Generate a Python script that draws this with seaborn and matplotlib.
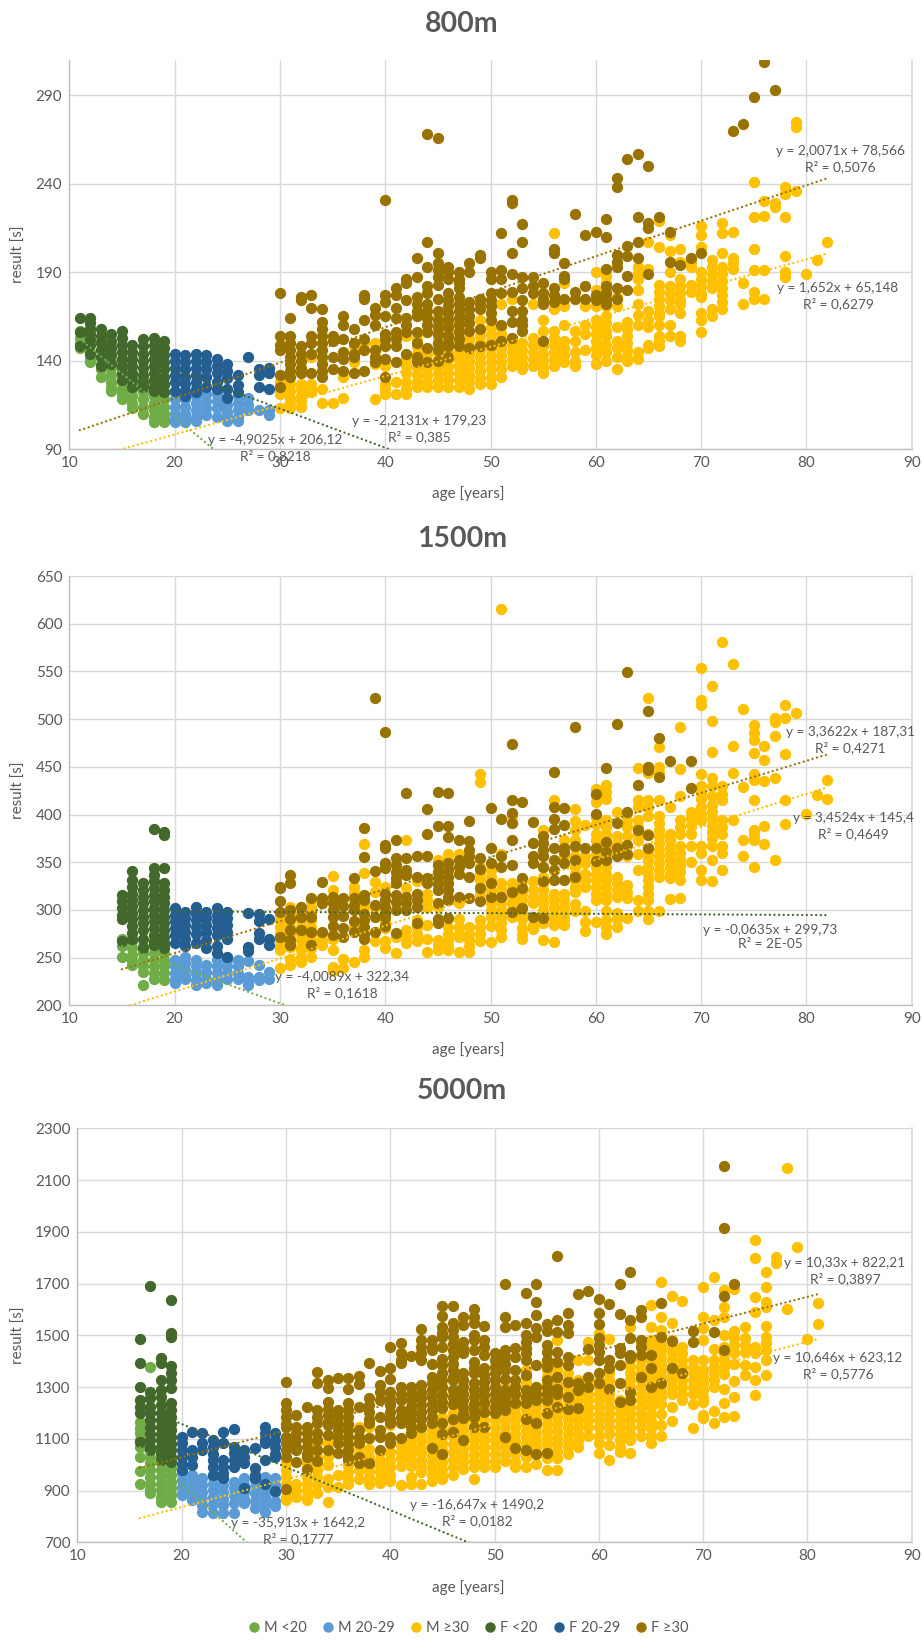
import matplotlib
matplotlib.use('Agg')
import matplotlib.pyplot as plt
from matplotlib.lines import Line2D
import pandas as pd
import seaborn as sns

# age -> results
M800_U20 = {11:[157,153,150,147], 12:[158,150,145,141,139], 13:[146,142,138,135,131],
    14:[148,144,140,136,132,128,125,123], 15:[140,136,132,128,124,121,118],
    16:[132,128,124,120,116,113], 17:[130,126,122,118,114,110],
    18:[128,124,120,116,112,108,105], 19:[126,122,118,114,110,107,105]}
M800_20 = {20:[122,118,114,110,107,105], 21:[122,118,114,110,107,105], 22:[120,116,112,108,106],
    23:[121,117,113,109], 24:[121,117,113,108], 25:[119,115,111,108,106], 26:[120,116,112,108,106],
    27:[119,115,112], 28:[112], 29:[112,109]}
M800_30 = {30:[128,124,121,113], 31:[127,123,119,116,113], 32:[127,124,120,117,114], 33:[142,127,124,122],
    34:[124,116], 35:[116], 36:[131,119], 37:[148,144,139], 38:[150], 39:[150,146,142,138,118],
    40:[137,127,124,121], 41:[155,151,128,121], 42:[154,141,137,133,128,124,121],
    43:[152,148,144,140,136,132,128,125], 44:[156,144,140,136,132,128,125],
    45:[165,161,157,153,149,145,141,137,133,129,125], 46:[165,161,157,153,149,145,141,137,133,129,125],
    47:[161,157,153,149,145,141,137,133,129,125], 48:[152,148,144,140,136,132,128,124],
    49:[163,158,154,150,146,142,138,134,130,127], 50:[159,155,151,147,143,139,135,131,127],
    51:[172,159,155,151,147,143,139,135,131], 52:[175,153,149,145,141,137],
    53:[150,146,142,138,135], 54:[172,153,149,145,141,137], 55:[163,157,148,144,140,136,133],
    56:[212,169,157,153,149,145,141,137], 57:[184,171,160,151,147,143,139], 58:[157,151,145,140,137],
    59:[171,160,155,146], 60:[190,180,176,171,163,159,155,151,147,143,138],
    61:[188,184,180,176,171,165,161,157,154,149,145,140], 62:[176,171,159,151,147,142,135],
    63:[162,158,154,150,146,142,140], 64:[193,189,186,180,172,166,160,145,141],
    65:[207,192,168,163,159,149,147], 66:[219,204,183,179,175,171,167,165,160,154,151,148],
    67:[211,202,190,182,178,174,169,160,154], 68:[203,196,186,182,178,174,172,167,154,151],
    69:[196,193,183,179], 70:[216,211,204,190,186,182,178,176,167,163,156],
    71:[197,193,189,185,181,169,165], 72:[218,212,201,193,189,185,181,177,173,169],
    73:[213,198,195,192], 74:[184,172], 75:[241,221,203,191,179,175], 76:[230,222,191,175],
    77:[229,227], 78:[238,234,221,199,190,187], 79:[275,272,236], 80:[189], 81:[197], 82:[207]}
F800_U20 = {11:[164,156,148], 12:[164,161,158,155,152,149,144], 13:[158,154,150,146,142,137],
    14:[155,151,147,143,138], 15:[157,153,149,145,141,137,133,129], 16:[149,145,141,137,133,129,125],
    17:[152,148,144,140,136,132,128,125], 18:[153,149,145,141,137,133,129,125,123],
    19:[151,147,143,139,135,131,127,122]}
F800_20 = {20:[144,140,136,132,128,123], 21:[143,139,135,131,127,123,120], 22:[144,140,136,132,128,124,122],
    23:[143,139,135,131,125], 24:[141,137,133,128,124], 25:[138,134,130,124,119], 26:[132,126,122],
    27:[142], 28:[135,132,125], 29:[136,133,124]}
F800_30 = {30:[178,154,149,146,132,125], 31:[164,154,150,146,142,138,134,131], 32:[176,174,148,144,140,136,133],
    33:[177,170,154,150,144,133], 34:[169,162,158,154,150,146,142,138,134,131], 35:[154,151,142,135],
    36:[165,160,152,145,141,134], 37:[158,150,144,142,133], 38:[177,175,163,152,146,134],
    39:[170,166,160,146,142,139], 40:[231,177,173,165,155,152,148,141,131], 41:[181,177,170,164,156,153,148,139],
    42:[186,184,174,164,160,156,144], 43:[198,187,176,172,168,165,156,150,142,139],
    44:[268,207,193,182,178,172,168,164,160,156,147,139], 45:[266,201,195,191,187,183,175,168,163,159,155,150,146,140],
    46:[193,190,186,178,174,171,167,163,159,154,150,148,142], 47:[190,186,184,181,176,172,168,164,160,156,152,148],
    48:[195,190,173,169,165,161,157,147], 49:[200,198,175,172,169,158,148], 50:[190,186,178,174,171,167,163,149],
    51:[212,191,186,178,160,151], 52:[231,229,201,189,179,168,162,153], 53:[217,207,187,181,174,168,163,160,157],
    54:[187,182,178], 55:[184,178,175,172,151], 56:[203,201,181,177,173], 57:[195,188,186,175],
    58:[223,179,175], 59:[211,182,175], 60:[213,177,174], 61:[220,210,192,182,178,175,172],
    62:[243,238,200,196,193,181,175], 63:[254,205,199,188,180], 64:[257,221,207,198], 65:[250,218,215,189],
    66:[221], 67:[213,196], 68:[194], 69:[198], 70:[201], 73:[270], 74:[274], 75:[289], 76:[309], 77:[293]}

M1500_U20 = {15:[270,262,251], 16:[267,260,253,246,242], 17:[262,255,248,241,235,221],
    18:[262,255,248,241,234,228], 19:[262,255,248,241,234,227]}
M1500_20 = {20:[248,241,234,228,223], 21:[251,244,237,231,228], 22:[248,241,234,227,221],
    23:[242,235,228,223], 24:[248,241,234,227,221], 25:[248,241,234,228], 26:[248,241,234,228],
    27:[246,230,225,221], 28:[242,230,226], 29:[235,228]}
M1500_30 = {30:[296,289,282,275,268,261,258,239], 31:[303,296,289,282,275,268,261,249,242],
    32:[296,289,282,275,268,261,258,251,245], 33:[310,303,296,289,282,275,268,260,251],
    34:[311,275,268,263], 35:[336,321,310,270,258,240,236], 36:[249,239], 37:[324,318,282,245],
    38:[369,339,309,303,258,251], 39:[329,319,303,267], 40:[324,288,281,267,260], 41:[272,255],
    42:[373,323,279,272,265], 43:[330,289,282,275,267], 44:[317,310,303,284,270,256],
    45:[352,303,268,263,258], 46:[359,352,282,275,268,262,258], 47:[359,307,290,282,275,272,256],
    48:[282,275,268,262,256], 49:[442,434,345,338,331,324,317,289,282,275,267],
    50:[342,335,328,321,314,307,300,293,283,266], 51:[615,359,328,321,314,307,300,293,286,279,272],
    52:[398,391,328,321,314,307,300,293], 53:[330,321,317,310,303,296,290,281,275,270],
    54:[330,321,314,307,293,284,280], 55:[384,345,335,328,321,314,307,300,293,286,268],
    56:[415,317,310,303,296,290,284,266], 57:[373,366,356,317,310,303,296,290,284],
    58:[406,393,384,373,366,356,345,338,331,324,319,306,299],
    59:[389,356,349,338,331,324,299,287,278], 60:[427,420,413,397,390,380,373,366,359,352,345,338,331,324,317,310,287],
    61:[431,424,416,394,387,380,373,366,359,352,345,338,331,324,317,310,299,289,282,275],
    62:[403,377,370,363,335,328,321,314,297,290,282], 63:[394,387,377,356,326,319,312,292],
    64:[449,415,408,394,387,380,373,359,342,310,299], 65:[522,450,444,415,408,398,380,359,352,345,338,331,324,317,310,299,290],
    66:[471,450,444,415,398,391,384,377,370,363,356,349,342,335,299], 67:[408,380,373,366,359,352,345,338,333,311],
    68:[492,448,419,394,387,380,367,360,353,346,340,331,312], 69:[403,396,389,380,367,350],
    70:[554,520,515,442,430,423,416,408,401,394,367,360,342,331], 71:[535,498,466,438,430,419,410,403,396,389,382,375,367,352,330],
    72:[581,430,422,415,394,387,380,367,360,342], 73:[558,472,443,394], 74:[511,429,373,357],
    75:[494,485,478,464,442,436,415,384,378,373,345], 76:[472,457,435,388,369], 77:[501,497,482,438,352],
    78:[515,501,463,415,390], 79:[506], 80:[401], 81:[420], 82:[436,416]}
F1500_U20 = {15:[316,309,302,295,290,267], 16:[341,331,324,317,310,304,297,290,283,276,269],
    17:[328,321,314,307,300,293,286,279,270,260], 18:[385,344,337,330,323,316,309,302,295,288,281,274,267,263],
    19:[382,379,344,328,321,314,307,300,293,286,279,272,265,260]}
F1500_20 = {20:[302,295,288,281,274,265], 21:[298,291,284,277,270,262], 22:[303,296,289,282,275,265],
    23:[298,291,284,277,268,260], 24:[302,295,288,281,274,262,255], 25:[298,291,284,277,269,251],
    27:[297,261,257], 28:[296,288,276,270], 29:[290,270,263]}
F1500_30 = {30:[324,323,309,298,272], 31:[337,328,300,290,279,268,263], 32:[303,293,279], 33:[312,293,277,263],
    34:[329,312,307,277], 35:[314,307,300,293,283,274], 36:[312,304,294,281,272], 37:[333,312,305,300,288,277],
    38:[386,355,316,310,296,289,282,275,270], 39:[522,341,305,293,277], 40:[486,368,365,349,344,317,310,303,296,293,283],
    41:[373,354,347,340,333,328,316,308,300,276], 42:[423,354,342,337,314,307,300], 43:[357,335,317,310,303,286],
    44:[406,380,356,333,328], 45:[424,388,347,340,333,327,321,307,290,286], 46:[423,388,376,349,342,335,328,321,314,310,291],
    47:[373,352,345,338,313], 48:[393,372,363,356,349,335,312], 49:[354,343,323,309],
    50:[407,365,349,328,314], 51:[395,356,345,314], 52:[474,415,402,391,373,347,319,298],
    53:[413,333,323,302], 54:[392,370,356,349,293], 55:[377,370,363,356,345,330,291],
    56:[445,408,395,385,365,352,342,331], 57:[407,389,365,361,349,331], 58:[492,367,352,335], 59:[365],
    60:[421,401,365,351], 61:[449,371,361,352], 62:[495,391,365,356], 63:[549,403,368,359], 64:[431,384],
    65:[508,450,447,379,365], 66:[480,439], 67:[456], 69:[456,428]}

M5000_U20 = {16:[1166,1140,1121,1095,1070,1031,977,924], 17:[1379,1031,1005,979,953,927,901,889],
    18:[1057,1031,1005,979,953,927,901,875,857], 19:[1012,986,960,934,908,882,857]}
M5000_20 = {20:[967,941,915,889,883], 21:[960,934,908,882,864], 22:[947,921,895,869,843,818],
    23:[953,927,901,875,849,812], 24:[947,921,895,869,843,812], 25:[934,908,882,851,812],
    26:[947,921,895,869,851], 27:[941,915,889,860,831], 28:[953,927,901,875,849,818], 29:[947,921,895,860,840]}
M5000_30 = {30:[1005,979,953,927,901,875,864], 31:[925,900,875], 32:[1005,979,953,927,901,875,864],
    33:[1082,1056,1030,1004,978,952,926,889], 34:[1082,1056,1030,998,946,915,857], 35:[960,915],
    36:[998,972,946,925], 37:[1147,1100,1070,1040,1010,980,945], 38:[1147,1105,1060,1030,1000,975,950,925],
    39:[1115,1050,1020,995,970,945,930], 40:[1153,1100,1050,1020,990,960,935],
    41:[1075,1050,1025,995,922], 42:[1147,1120,1095,1070,1045,1020,995,953,925],
    43:[1147,1120,1095,1070,1045,1020,995,970,925], 44:[1160,1135,1110,1085,1060,1035,1012,986,960,935],
    45:[1186,1160,1135,1110,1085,1060,1035,1010,985,960,945], 46:[1327,1290,1260,1230,1200,1170,1140,1110,1080,1050,1020,990,962],
    47:[1212,1186,1160,1135,1110,1085,1060,1035,1010,985], 48:[1224,1198,1172,1146,1120,1094,1068,1042,1016,990,946],
    49:[1250,1224,1198,1172,1146,1120,1094,1068,1042,1016,990], 50:[1224,1198,1172,1146,1120,1094,1068,1042,1016,992],
    51:[1301,1275,1249,1223,1197,1171,1145,1119,1093,1067,1041,1015], 52:[1301,1275,1249,1223,1197,1171,1145,1119,1093,1067,1041,1012,992],
    53:[1366,1340,1314,1288,1262,1236,1210,1184,1158,1132,1106,1080,1054,1028,992],
    54:[1301,1275,1249,1223,1197,1171,1145,1119,1093,1067,1041,1003], 55:[1391,1365,1339,1313,1287,1261,1235,1209,1183,1157,1131,1105,1079,1053,1027,980],
    56:[1482,1391,1365,1339,1313,1287,1261,1235,1209,1183,1157,1131,1105,1079,1053,1027,980],
    57:[1353,1327,1301,1275,1249,1223,1197,1171,1145,1119,1093,1067,1043], 58:[1405,1327,1301,1275,1249,1223,1197,1171,1145,1119,1093,1069],
    59:[1475,1405,1327,1301,1275,1249,1223,1197,1171,1145,1110], 60:[1508,1327,1301,1275,1249,1223,1197,1171,1145,1110,1082,1044],
    61:[1484,1405,1379,1353,1327,1301,1275,1249,1223,1197,1171,1145,1119,1075,1018], 62:[1250,1224,1198,1172,1146,1120,1094,1068,1050],
    63:[1531,1380,1354,1328,1302,1276,1250,1224,1198,1172,1146,1120,1097,1044], 64:[1470,1405,1379,1353,1327,1301,1275,1249,1223,1197,1171,1145,1110],
    65:[1617,1533,1482,1456,1430,1404,1378,1352,1326,1300,1274,1248,1222,1196,1170,1143,1110,1082],
    66:[1707,1572,1520,1494,1468,1442,1416,1390,1364,1338,1312,1286,1260,1234,1196,1152,1110],
    67:[1652,1546,1482,1456,1430,1404,1378,1352,1326,1300,1274,1222,1170], 68:[1632,1456,1430,1404,1378,1352,1326,1300,1274,1250],
    69:[1405,1379,1353,1327,1301,1275,1233,1143], 70:[1688,1572,1530,1482,1405,1366,1340,1314,1288,1262,1244,1193,1179],
    71:[1724,1560,1446,1405,1379,1353,1327,1301,1207,1162], 72:[1675,1610,1569,1501,1456,1430,1404,1378,1352,1294,1240,1185],
    73:[1679,1517,1490,1464,1430,1388,1323,1262,1187], 74:[1533,1488,1462,1436,1384,1345],
    75:[1867,1797,1649,1591,1456,1430,1379,1327,1268], 76:[1743,1688,1630,1610,1537,1495,1469,1443,1403,1345],
    77:[1804,1778], 78:[2145,1600], 79:[1842], 80:[1484], 81:[1626,1542]}
F5000_U20 = {16:[1484,1392,1299,1250,1224,1198,1088], 17:[1692,1282,1256,1224,1198,1172,1146,1120,1094,1068,1057],
    18:[1411,1394,1327,1288,1262,1230,1198,1172,1146,1120,1094,1068,1044,1018],
    19:[1636,1507,1495,1381,1353,1327,1295,1237,1211,1185,1159,1133,1107,1081,1055,1031,1012]}
F5000_20 = {20:[1108,1082,1056,1030,1004,980], 21:[1125,1057,1031,999], 22:[1121,1082,1057], 23:[1095,1069,1043,1017,991,960],
    24:[1128,1082,1018,992,966,947], 25:[1137,1070,1044,1018,992], 26:[1057,1031,1005,909], 27:[1066,986,960,947],
    28:[1147,1121,1095,1082,1018,925], 29:[1121,1095,1069,1043,1031,898]}
F5000_30 = {30:[1318,1237,1211,1185,1159,1147,1108,1082,1056,1031,906], 31:[1192,1147,1121,1095,1069,1057,1012],
    32:[1224,1147,1121,1095,1069,1043,1031,982], 33:[1359,1317,1211,1185,1160,1121,1095,1057,1014],
    34:[1327,1295,1243,1217,1191,1165,1153,1115,1057], 35:[1336,1211,1185,1159,1133,1108,1082,1044],
    36:[1336,1291,1237,1211,1185,1159,1133,1107,1081,1055,1029,1018], 37:[1343,1311,1224,1134,1108,1082,1031,1005],
    38:[1394,1256,1230,1204,1178,1160,1104,1005], 39:[1363,1308,1282,1250,1186,1134,1108,1057],
    40:[1456,1372,1333,1282,1256,1230,1204,1178,1160,1108,1082], 41:[1469,1430,1405,1392,1301,1275,1250,1211,1185,1160,1102],
    42:[1420,1301,1275,1249,1223,1197,1171,1145,1121], 43:[1523,1482,1456,1430,1405,1308,1282,1256,1230,1204,1178,1147],
    44:[1482,1456,1443,1389,1340,1314,1288,1262,1236,1210,1184,1160,1063],
    45:[1615,1576,1533,1507,1495,1456,1410,1385,1353,1327,1301,1270,1244,1218,1160,1120,1040],
    46:[1615,1546,1520,1494,1468,1442,1416,1390,1364,1338,1327,1288,1262,1236,1176,1125],
    47:[1569,1540,1475,1449,1430,1353,1327,1301,1275,1249,1223,1197,1179,1095], 48:[1600,1572,1546,1501,1482,1443,1398,1372,1353,1314,1288,1262,1236,1210,1184,1147],
    49:[1537,1482,1456,1424,1372,1346,1320,1294,1268,1237,1205,1147], 50:[1430,1405,1379,1353,1327,1301,1275,1249,1223,1198],
    51:[1697,1572,1533,1443,1417,1391,1366,1333,1288,1262,1236,1210,1108], 52:[1540,1450,1417,1366,1327,1301,1275,1237,1066],
    53:[1662,1546,1501,1475,1450,1430,1404,1346,1288,1262,1237,1178,1057], 54:[1700,1630,1578,1527,1495,1385,1301,1275,1250,1160,1040],
    55:[1544,1517,1462,1436,1405,1379,1327,1301,1275,1250,1198,1046], 56:[1806,1559,1511,1437,1398,1340,1294,1275,1222],
    57:[1587,1540,1508,1417,1385,1320,1262,1216], 58:[1660,1314,1288,1218], 59:[1671,1446,1340,1301],
    60:[1639,1585,1544,1488,1462,1436,1405,1353,1316], 61:[1621,1405,1373,1291], 62:[1697,1581,1450,1430,1385,1314,1243],
    63:[1746,1559,1488,1424,1411,1282,1250], 64:[1598,1572,1482,1456,1424,1340], 65:[1424,1375,1301], 66:[1623,1495,1314],
    67:[1479,1372], 68:[1353], 69:[1518,1475], 71:[1511], 72:[2155,1913,1652,1443], 73:[1697]}

SERIES_NAMES = ['M <20', 'M 20-29', 'M ≥30', 'F <20', 'F 20-29', 'F ≥30']
SERIES_COLORS = ['#70AD47', '#5B9BD5', '#FFC000', '#43682B', '#255E91', '#997300']

PANEL_TITLES = ['800m', '1500m', '5000m']
PANEL_DATA = [[M800_U20, M800_20, M800_30, F800_U20, F800_20, F800_30],
              [M1500_U20, M1500_20, M1500_30, F1500_U20, F1500_20, F1500_30],
              [M5000_U20, M5000_20, M5000_30, F5000_U20, F5000_20, F5000_30]]
Y_TICKS = [[90, 140, 190, 240, 290],
           [200, 250, 300, 350, 400, 450, 500, 550, 600, 650],
           [700, 900, 1100, 1300, 1500, 1700, 1900, 2100, 2300]]
Y_LIMITS = [(90, 310), (200, 650), (700, 2300)]
X_TICKS = [10, 20, 30, 40, 50, 60, 70, 80, 90]

# slope, intercept, first age, last age, colour index
TRENDS_800 = [(-4.9025, 206.12, 11, 25, 0), (1.652, 65.148, 11, 82, 2), (-2.2131, 179.23, 11, 42, 3), (2.0071, 78.566, 11, 82, 5)]
TRENDS_1500 = [(-4.0089, 322.34, 15, 31, 0), (3.4524, 145.4, 15, 82, 2), (-0.0635, 299.73, 15, 82, 3), (3.3622, 187.31, 15, 82, 5)]
TRENDS_5000 = [(-35.913, 1642.2, 16, 27, 0), (10.646, 623.12, 16, 81, 2), (-16.647, 1490.2, 16, 48, 3), (10.33, 822.21, 16, 81, 5)]
PANEL_TRENDS = [TRENDS_800, TRENDS_1500, TRENDS_5000]

NOTES = [('y = -2,2131x + 179,23\nR² = 0,385', 419, 429), ('y = -4,9025x + 206,12\nR² = 0,8218', 275, 448),
         ('y = 2,0071x + 78,566\nR² = 0,5076', 840, 159), ('y = 1,652x + 65,148\nR² = 0,6279', 838, 296),
         ('y = -4,0089x + 322,34\nR² = 0,1618', 342, 985), ('y = 3,3622x + 187,31\nR² = 0,4271', 850, 740),
         ('y = 3,4524x + 145,4\nR² = 0,4649', 853, 826), ('y = -0,0635x + 299,73\nR² = 2E-05', 770, 937),
         ('y = -35,913x + 1642,2\nR² = 0,1777', 298, 1531), ('y = -16,647x + 1490,2\nR² = 0,0182', 477, 1513),
         ('y = 10,33x + 822,21\nR² = 0,3897', 845, 1271), ('y = 10,646x + 623,12\nR² = 0,5776', 838, 1366)]

W, H = 924, 1641
# left, right, top, bottom in pixels
AXES_BOX = [(69.3, 911.7, 60, 449), (69.3, 911.7, 576, 1005.3), (77.3, 911.7, 1128.3, 1542.3)]
TITLE_Y = [24, 539, 1091]
XLABEL_Y = [494, 1050, 1588]
TEXT_COLOR = '#595959'


def to_frame(series):
    rows = [(age, value) for age, values in series.items() for value in values]
    return pd.DataFrame(rows, columns=['age', 'result'])


def draw_panel(fig, idx):
    left, right, top, bottom = AXES_BOX[idx]
    ax = fig.add_axes([left / W, 1 - bottom / H, (right - left) / W, (bottom - top) / H])
    for series, color in zip(PANEL_DATA[idx], SERIES_COLORS):
        sns.scatterplot(data=to_frame(series), x='age', y='result', color=color, s=66, linewidth=0, ax=ax, zorder=3)
    for slope, intercept, first, last, cidx in PANEL_TRENDS[idx]:
        ages = [first, last]
        fitted = [slope * a + intercept for a in ages]
        sns.lineplot(x=ages, y=fitted, color=SERIES_COLORS[cidx], lw=1.7, ax=ax, zorder=4, errorbar=None,
                     linestyle=(0, (0.01, 1.95)), dash_capstyle='round')
    ax.set_xlim(10, 90)
    ax.set_ylim(*Y_LIMITS[idx])
    ax.set_xticks(X_TICKS)
    ax.set_yticks(Y_TICKS[idx])
    ax.grid(True, color='#D9D9D9', lw=1.0)
    ax.set_axisbelow(True)
    ax.tick_params(length=0, labelsize=11, labelcolor=TEXT_COLOR, pad=5)
    ax.set_xlabel('')
    ax.set_ylabel('')
    for side in ['left', 'bottom']:
        ax.spines[side].set_color('#BFBFBF')
        ax.spines[side].set_linewidth(1.0)
    ax.spines['right'].set_color('#D9D9D9')
    ax.spines['top'].set_visible(False)
    fig.text(462 / W, 1 - TITLE_Y[idx] / H, PANEL_TITLES[idx], ha='center', va='center', fontsize=20.5,
             fontweight='bold', color=TEXT_COLOR)
    fig.text(468 / W, 1 - XLABEL_Y[idx] / H, 'age [years]', ha='center', va='center', fontsize=11, color=TEXT_COLOR)
    fig.text(19 / W, 1 - (top + bottom) / 2 / H, 'result [s]', rotation=90, ha='center', va='center', fontsize=11,
             color=TEXT_COLOR)


def main():
    sns.set_theme(style='white')
    plt.rcParams['font.family'] = ['Lato', 'DejaVu Sans']
    fig = plt.figure(figsize=(W / 100, H / 100), dpi=100, facecolor='white')
    for idx in range(3):
        draw_panel(fig, idx)
    for text, x, y in NOTES:
        fig.text(x / W, 1 - y / H, text, ha='center', va='center', fontsize=9.8, color=TEXT_COLOR,
                 linespacing=1.3, zorder=10)
    handles = [Line2D([], [], marker='o', ls='', color=c, markersize=7.5, markeredgewidth=0) for c in SERIES_COLORS]
    fig.legend(handles, SERIES_NAMES, loc='center', bbox_to_anchor=(468 / W, 1 - 1628 / H), ncol=6, frameon=False,
               fontsize=10.5, labelcolor=TEXT_COLOR, handlelength=0.9, handletextpad=0.25, columnspacing=1.0)
    fig.savefig('out.png', dpi=100)


if __name__ == '__main__':
    main()
